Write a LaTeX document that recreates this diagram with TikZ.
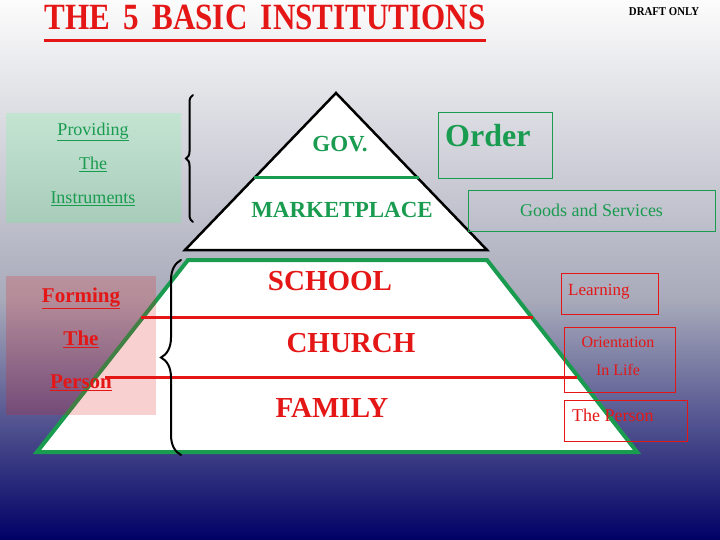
\documentclass[tikz,border=0pt]{standalone}
\usepackage{fontspec}
\setmainfont{Liberation Serif}
\usepackage{tikz}
\usetikzlibrary{positioning, decorations.pathreplacing, calc}
\definecolor{InstGreen}{RGB}{25,155,80}
\definecolor{InstRed}{RGB}{228,22,22}
\definecolor{SkyTop}{RGB}{252,252,252}
\definecolor{SkyMid}{RGB}{168,170,186}
\definecolor{SkyLow}{RGB}{72,72,122}
\definecolor{SkyNavy}{RGB}{0,0,102}
\definecolor{MintTop}{RGB}{196,228,210}
\definecolor{MintLow}{RGB}{168,204,186}

\begin{document}
\begin{tikzpicture}[x=1pt, y=-1pt,
          frame/.style={rectangle, inner sep=0pt, line width=0.8pt},
          tier/.style={font=\fontsize{23}{23}\selectfont\bfseries, text=InstGreen, inner sep=0pt},
          base/.style={font=\fontsize{29}{29}\selectfont\bfseries, text=InstRed, inner sep=0pt},
          tag/.style={inner sep=0pt, align=center},
          brc/.style={decorate, line width=2pt, line cap=round}
        ]
        \useasboundingbox (0,0) rectangle (720,540);
        % background
        \shade[top color=SkyTop, bottom color=SkyMid] (0,0) rectangle (720,300);
        \shade[top color=SkyMid, middle color=SkyLow, bottom color=SkyNavy]
              (0,300) rectangle (720,540);

        % Title
        \node[inner sep=0pt, anchor=base, text=InstRed,
              font=\fontsize{37}{37}\selectfont\bfseries]
              (title) at (265,30) {\scalebox{0.84}[1]{THE\hspace{16pt}5\hspace{16pt}BASIC\hspace{16pt}INSTITUTIONS}};
        \draw[InstRed, line width=3pt] ($(title.base west)+(0,11)$) -- ($(title.base east)+(0,11)$);
        \node[inner sep=0pt, anchor=base, font=\fontsize{12}{12}\selectfont\bfseries]
              (draft) at (664,16) {\scalebox{0.9}[1]{DRAFT ONLY}};

        % Upper pyramid
        \draw[line width=2.5pt, fill=white, line join=miter]
              (336,93) -- (487,250) -- (185,250) -- cycle;
        \draw[InstGreen, line width=3pt] (254,178) -- (419,178);

        % Lower pyramid
        \draw[InstGreen, line width=4pt, fill=white]
              (188,260) -- (487,260) -- (637,452) -- (37,452) -- cycle;

        % Left boxes
        \node[frame, top color=MintTop, bottom color=MintLow, minimum width=175pt,
              minimum height=109pt] (provbox) at (93.5,168.5) {};
        \node[tag, text=InstGreen, font=\fontsize{18}{34}\selectfont]
              (prov) at (93,164) {\underline{Providing}\\\underline{The}\\\underline{Instruments}};
        \node[frame, fill=InstRed, fill opacity=0.2, minimum width=150pt,
              minimum height=139pt] (formbox) at (81,345.5) {};
        \node[tag, text=InstRed, font=\fontsize{21}{43}\selectfont\bfseries]
              (form) at (81,339) {\underline{Forming}\\\underline{The}\\\underline{Person}};

        % dividers
        \draw[InstRed, line width=3pt] (141,317) -- (533,317);
        \draw[InstRed, line width=3pt] (105,377) -- (577,377);

        % Institutions
        \node[tier, anchor=base] (gov) at (340,152) {GOV.};
        \node[tier, anchor=base] (market) at (342,218) {MARKETPLACE};
        \node[base, anchor=base] (school) at (330,290) {SCHOOL};
        \node[base, anchor=base] (church) at (351,352) {CHURCH};
        \node[base, anchor=base] (family) at (332,417) {FAMILY};

        % braces
        \coordinate (b1lo) at (193,222);
        \coordinate (b1hi) at (193,95);
        \coordinate (b2lo) at (181,455);
        \coordinate (b2hi) at (181,260);
        \draw[brc, decoration={brace, amplitude=7pt}] (b1lo) -- (b1hi);
        \draw[brc, decoration={brace, amplitude=20pt}] (b2lo) -- (b2hi);

        % Right boxes
        \node[frame, draw=InstGreen, minimum width=114pt, minimum height=66pt]
              (ordbox) at (495,145) {};
        \node[inner sep=0pt, anchor=base west, text=InstGreen,
              font=\fontsize{32}{32}\selectfont\bfseries] (ord) at (445,147) {Order};
        \node[frame, draw=InstGreen, minimum width=247pt, minimum height=41pt,
              text=InstGreen, font=\fontsize{18}{18}\selectfont]
              (goods) at (591.5,210.5) {Goods and Services};
        \node[frame, draw=InstRed, minimum width=97pt, minimum height=41pt]
              (learnbox) at (609.5,293.5) {};
        \node[inner sep=0pt, anchor=base west, text=InstRed,
              font=\fontsize{17}{17}\selectfont] (learn) at (568,295) {Learning};
        \node[frame, draw=InstRed, minimum width=111pt, minimum height=65pt]
              (orientbox) at (619.5,359.5) {};
        \node[tag, text=InstRed, font=\fontsize{16}{28}\selectfont]
              (orient) at (618,356) {Orientation\\In Life};
        \node[frame, draw=InstRed, minimum width=123pt, minimum height=41pt]
              (personbox) at (625.5,420.5) {};
        \node[inner sep=0pt, anchor=base west, text=InstRed,
              font=\fontsize{18}{18}\selectfont] (person) at (572,421) {The Person};
      \end{tikzpicture}
\end{document}
